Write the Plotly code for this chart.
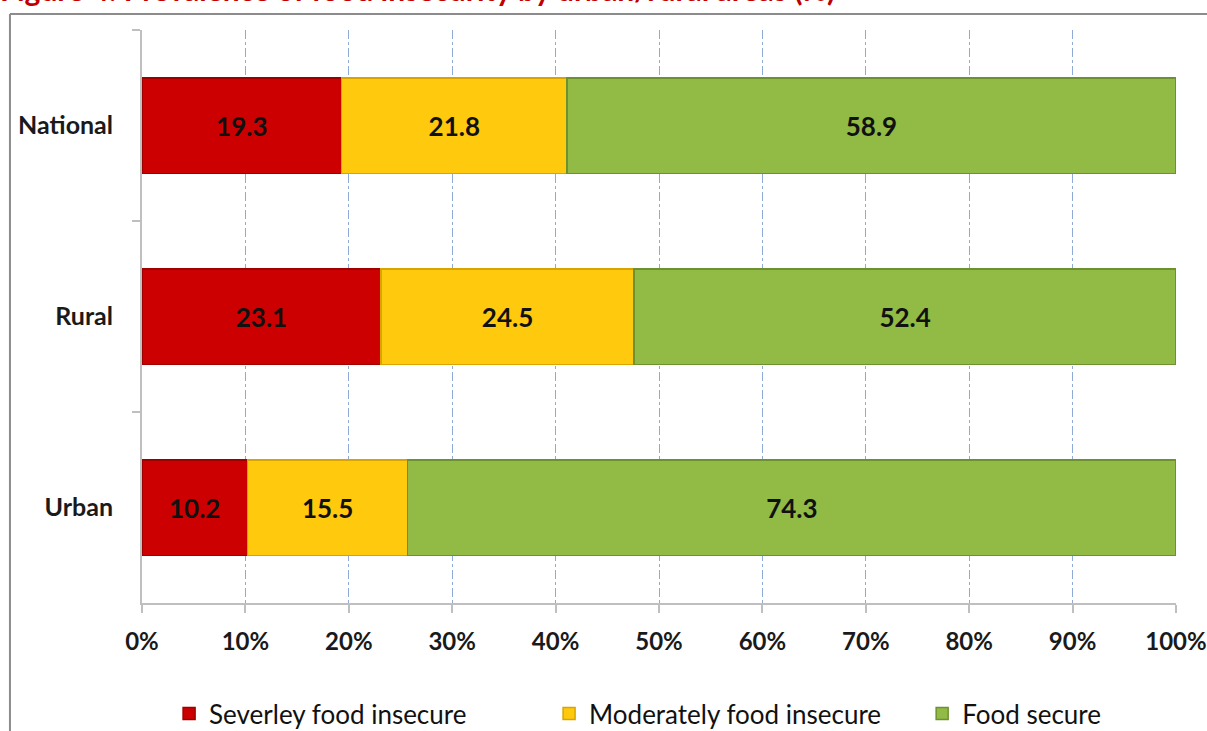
import plotly.graph_objects as go

# ── Data ────────────────────────────────────────────────────────────────────
areas = ["National", "Rural", "Urban"]
severe = [19.3, 23.1, 10.2]
moderate = [21.8, 24.5, 15.5]
secure = [58.9, 52.4, 74.3]

series = [
    ("Severley food insecure", severe, "#CC0000", "#9E0000", "legend"),
    ("Moderately food insecure", moderate, "#FFC90E", "#D9A400", "legend2"),
    ("Food secure", secure, "#92BB45", "#6E9130", "legend3"),
]

FONT = "Lato, 'Open Sans', sans-serif"

fig = go.Figure()
for name, vals, color, edge, leg in series:
    fig.add_trace(go.Bar(
        y=areas, x=vals, name=name, orientation="h", legend=leg,
        marker=dict(color=color, line=dict(color=edge, width=1.5)),
        text=vals, texttemplate="%{x:.1f}", textposition="inside",
        insidetextanchor="middle",
        textfont=dict(family=FONT, size=26, color="#111111", weight="bold"),
    ))

legend_style = dict(
    orientation="h", xanchor="left", y=-0.193, yanchor="middle",
    font=dict(family=FONT, size=26, color="#111111"),
    bgcolor="rgba(0,0,0,0)",
)

fig.update_layout(
    width=1207, height=731,
    barmode="stack", bargap=0.5,
    paper_bgcolor="white", plot_bgcolor="white",
    font=dict(family=FONT, size=18, color="#1A1A1A"),
    margin=dict(l=142, r=31, t=30, b=128, autoexpand=False),
    showlegend=True,
    legend=dict(x=0.0262, **legend_style),
    legend2=dict(x=0.3937, **legend_style),
    legend3=dict(x=0.7545, **legend_style),
    xaxis=dict(
        range=[0, 100], dtick=10, ticksuffix="%", automargin=False,
        showgrid=True, gridcolor="#8EAAD6", griddash="dashdot", gridwidth=1,
        showline=True, linecolor="#BFBFBF", linewidth=2,
        ticks="outside", ticklen=8, tickcolor="#BFBFBF", tickwidth=2,
        tickfont=dict(size=24, weight="bold"), ticklabelstandoff=8,
        zeroline=False,
    ),
    yaxis=dict(
        categoryorder="array", categoryarray=areas, autorange="reversed",
        automargin=False,
        showline=True, linecolor="#BFBFBF", linewidth=2,
        ticks="outside", tickson="boundaries", ticklen=8, tickcolor="#BFBFBF", tickwidth=2,
        tickfont=dict(size=25, weight="bold"), ticklabelstandoff=22,
        showgrid=False,
    ),
)

# outer frame of the figure box (only top and left edges are visible)
fig.add_shape(type="line", xref="paper", yref="paper",
              x0=-0.1277, x1=1.5, y0=1.028, y1=1.028,
              line=dict(color="#8C8C8C", width=2), layer="below")
fig.add_shape(type="line", xref="paper", yref="paper",
              x0=-0.1277, x1=-0.1277, y0=-0.5, y1=1.028,
              line=dict(color="#8C8C8C", width=2), layer="below")

# figure caption, partially cut off at the top
fig.add_annotation(
    text="Figure 4: Prevalence of food insecurity by urban/rural areas (%)",
    xref="paper", yref="paper", x=-0.139, xanchor="left",
    y=1.036, yanchor="bottom", showarrow=False,
    font=dict(family=FONT, size=30, color="#C00000", weight="bold"),
)

# drop the default 8px page margin so the figure sits flush with the window
fig.write_html("out.html", config={"displayModeBar": False},
               post_script="document.body.style.margin='0';")
